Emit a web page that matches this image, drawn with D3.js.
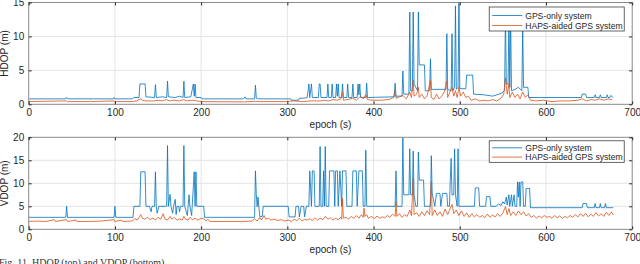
<!DOCTYPE html>
<html>
<head>
<meta charset="utf-8">
<script src="https://cdn.jsdelivr.net/npm/d3@7"></script>
<style>
  body { margin: 0; background: #fff; }
  svg { display: block; font-family: "Liberation Sans", Arial, sans-serif; }
  .grid line { stroke: #e4e4e4; stroke-width: 1; }
  .axis path { display: none; }
  .axis line { stroke: #262626; }
  .axis text { fill: #262626; font-size: 10px; }
  .frame { fill: none; stroke: #8a8a8a; stroke-width: 1; }
  .dop-line { fill: none; stroke-width: 0.8; stroke-linejoin: round; }
</style>
</head>
<body>
<div id="chart"></div>
<script>
// ---- data: [epoch (s), value (m)] ----
const epochTicks = [0, 100, 200, 300, 400, 500, 600, 700];
const hdopTicks = [0, 5, 10, 15];
const vdopTicks = [0, 5, 10, 15, 20];
const seriesNames = ["GPS-only system", "HAPS-aided GPS system"];
const caption = "Fig. 11. HDOP (top) and VDOP (bottom).";

const hdopGps = [[0,0.8],[43,0.8],[44,1.0],[45,0.8],[98,0.8],[99,1.0],[100,0.8],[120,0.8],[122,1.0],[128,1.0],[129,3.0],[135,3.0],[136,1.1],[146,1.0],[147,2.9],[148,1.0],[155,1.1],[160,1.0],[161,3.4],[162,1.1],[170,1.0],[175,1.2],[179,1.0],[180,3.4],[181,1.0],[188,1.1],[191,3.0],[192,1.2],[193,3.0],[194,1.0],[200,1.0],[201,0.8],
  [249,0.8],[251,1.1],[252,0.8],[262,0.8],[263,2.8],[264,0.9],[267,0.8],[304,0.8],[305,0.6],[313,0.6],[314,0.9],[319,0.9],[323,1.0],
  [325,3.0],[326,1.0],[328,3.0],[329,1.0],[336,1.0],[337,3.0],[338,3.0],[339,1.0],[346,1.0],[347,3.0],[348,1.0],[351,1.0],[352,3.0],[353,1.0],[356,1.0],[357,3.0],[358,1.2],[359,3.0],[360,1.0],[363,1.0],[364,3.0],[365,1.0],[369,1.0],[370,3.0],[371,1.0],[375,1.0],[376,3.0],[377,1.0],[381,1.0],[382,3.0],[383,1.4],[384,3.0],[385,1.0],[391,1.0],[392,3.1],[393,1.0],
  [424,1.1],[425,3.1],[426,1.2],[433,1.2],[434,4.9],[435,1.5],[441,1.5],[442,13.6],[443,2.0],[445,2.0],[446,13.6],[447,3.0],[451,2.0],[452,13.6],[453,5.8],[459,5.8],[460,2.0],[465,2.0],[466,6.7],[467,2.2],[484,2.2],[485,10.4],[486,2.2],[490,2.0],[491,10.4],[492,2.0],[494,2.5],[495,14.5],[496,2.2],[498,2.5],[499,15.0],[500,2.3],[507,2.3],[508,4.3],[515,4.3],[516,1.5],[528,1.4],[538,1.2],[548,1.6],[552,2.0],[553,13.5],[554,3.0],[556,3.0],[557,13.0],[558,2.5],[559,12.5],[560,2.0],[564,2.2],[568,2.5],[572,2.0],[573,11.0],[574,2.5],[579,2.5],[580,1.0],
  [641,1.0],[642,1.5],[646,1.5],[647,1.0],[656,1.0],[657,1.4],[658,1.0],[662,1.0],[663,1.4],[664,1.0],[670,1.0],[671,1.4],[672,1.0],[674,1.0],[675,1.3],[678,1.0]];

const hdopHaps = [[0,0.4],[44,0.5],[45,0.4],[70,0.4],[72,0.5],[73,0.4],[99,0.5],[100,0.4],[120,0.4],[125,0.5],[130,0.8],[132,0.6],[135,0.5],[145,0.5],[150,0.6],[155,0.5],[160,0.7],[163,0.5],[168,0.6],[175,0.5],[180,0.7],[183,0.5],[190,0.6],[195,0.5],[200,0.4],
  [249,0.35],[263,0.45],[268,0.4],[298,0.4],[308,0.5],[318,0.4],[328,0.5],[338,0.5],[343,0.6],[348,0.5],[353,0.7],[358,0.6],[362,0.8],[364,1.8],[365,0.6],[370,0.7],[376,0.9],[380,0.6],[385,1.2],[388,0.8],[391,1.4],[393,0.7],[398,0.6],[408,0.6],[418,0.7],[423,1.0],[425,2.0],[426,0.9],[430,1.1],[434,1.3],[438,0.8],[442,1.8],[444,1.0],[446,3.6],[447,1.2],[450,1.5],[452,2.5],[453,1.0],[456,1.5],[459,0.8],[462,1.2],[466,3.5],[467,1.0],[470,0.7],[473,1.5],[476,0.8],[479,1.2],[482,1.8],[485,3.4],[486,1.0],[489,2.0],[491,2.5],[493,1.2],[495,2.0],[497,1.0],[499,2.5],[501,1.2],[504,1.8],[507,1.0],[510,1.2],[513,0.6],[518,0.8],[523,0.5],[528,0.6],[533,0.5],[538,0.7],[543,0.5],[548,0.9],[551,1.5],[553,3.9],[555,1.5],[557,3.0],[558,1.0],[561,1.8],[564,1.0],[567,1.5],[570,0.8],[573,1.8],[576,1.0],[579,1.4],[582,0.6],
  [588,0.5],[597,0.6],[607,0.4],[617,0.5],[627,0.5],[637,0.6],[642,0.8],[647,0.5],[652,0.7],[657,0.6],[662,0.8],[667,0.6],[672,0.8],[677,0.7]];

const vdopGps = [[0,2.6],[43,2.6],[44,5.0],[45,2.6],[99,2.6],[100,5.0],[101,2.6],[121,2.6],[122,5.0],[129,5.0],[130,12.5],[135,12.5],[136,5.0],[140,5.0],[142,3.8],[143,5.0],[146,5.0],[147,12.5],[148,5.0],[149,3.5],[151,5.0],[160,5.0],[161,18.2],[162,5.0],[164,7.6],[165,5.0],[167,3.5],[168,5.0],[170,6.5],[171,3.2],[172,5.0],[174,5.0],[175,3.8],[176,5.0],[179,5.0],[180,18.2],[181,5.0],[184,3.0],[186,7.5],[187,5.0],[189,3.0],[192,12.5],[193,5.0],[194,12.5],[195,5.0],[203,5.0],[204,2.6],
  [262,2.6],[263,12.7],[264,7.5],[265,4.9],[266,7.0],[268,2.8],[271,2.8],[272,5.0],[301,5.0],[302,2.7],[309,2.7],[310,5.0],[313,5.0],[314,2.7],[316,5.0],[319,5.0],[320,2.7],[322,5.0],[325,5.0],[326,12.7],[328,5.0],[329,12.7],[331,12.7],[332,5.0],[337,5.0],[338,18.0],[339,5.0],[341,5.0],[342,12.7],[343,5.0],[344,18.0],[345,5.0],[348,5.0],[349,12.7],[354,12.7],[355,5.0],[356,12.7],[358,12.7],[359,5.0],[361,12.7],[363,5.0],[364,12.7],[368,12.7],[369,5.0],[375,5.0],[376,12.7],[380,12.7],[381,5.0],[383,12.7],[387,12.7],[388,5.0],[390,5.0],[391,17.2],[392,5.0],
  [425,5.0],[426,12.7],[427,5.0],[433,5.0],[434,20],[435,7.5],[441,7.5],[442,17.5],[443,7.5],[445,7.5],[446,17.0],[447,7.5],[449,5.0],[451,5.0],[452,16.8],[453,10.7],[458,10.7],[459,5.0],[466,5.0],[467,16.0],[468,7.8],[471,5.0],[473,7.8],[477,7.8],[478,5.0],[480,7.8],[485,7.8],[486,5.0],[488,5.0],[489,10.7],[490,15.4],[491,7.5],[493,7.5],[494,17.5],[495,7.5],[497,5.0],[498,17.5],[499,5.0],
  [517,5.0],[518,9.0],[522,9.0],[523,5.0],[530,5.0],[531,7.1],[535,7.1],[536,5.0],[542,5.0],[545,5.5],[548,5.2],[550,6.0],[552,5.5],[554,7.0],[555,5.3],[557,7.5],[558,5.0],[560,7.5],[561,5.0],[563,7.5],[564,5.0],[566,5.0],[567,10.3],[568,7.0],[569,10.3],[570,5.0],[571,10.3],[573,10.3],[574,5.0],[576,5.0],[577,8.9],[581,8.9],[582,4.7],
  [642,4.7],[643,5.6],[647,5.6],[648,4.7],[656,4.7],[657,5.6],[658,4.7],[662,4.7],[663,5.6],[664,4.7],[668,4.7],[669,5.6],[670,4.7],[678,4.7]];

const vdopHaps = [[0,1.7],[10,1.8],[20,1.7],[30,2.1],[31,1.7],[44,2.1],[45,1.7],[55,2.0],[56,1.7],[70,1.7],[85,1.8],[99,2.1],[100,1.7],[108,2.0],[109,1.7],[120,1.8],[123,2.3],[126,2.0],[130,3.2],[132,2.4],[135,2.2],[138,2.6],[141,2.1],[144,2.4],[147,2.0],[150,2.6],[153,2.2],[156,3.4],[158,2.2],[161,2.0],[164,2.8],[166,2.2],[169,2.6],[172,2.0],[175,2.3],[178,2.0],[180,2.8],[182,2.2],[185,2.0],[187,2.6],[190,2.1],[193,2.4],[196,2.0],[200,2.4],[203,2.3],[206,1.8],[208,2.2],[210,1.7],[230,1.7],
  [249,1.7],[259,1.8],[262,2.3],[265,1.8],[268,2.6],[270,2.0],[273,3.0],[275,2.2],[278,2.4],[281,2.0],[285,2.2],[289,1.9],[293,2.1],[297,1.8],[301,2.0],[305,1.7],[308,2.2],[311,1.9],[314,2.4],[317,1.8],[320,2.2],[323,2.0],[326,2.3],[329,1.9],[332,2.5],[335,2.0],[338,2.4],[341,2.1],[344,2.8],[347,2.2],[350,2.5],[353,2.0],[356,2.4],[359,2.1],[362,2.6],[363,2.2],[364,6.7],[365,2.4],[368,2.6],[371,2.2],[374,2.8],[377,2.4],[380,3.0],[383,2.4],[386,3.2],[388,2.6],[389,4.6],[390,2.8],[392,3.2],[394,2.4],
  [398,2.8],[401,2.3],[404,2.9],[407,2.4],[410,2.7],[413,2.5],[416,3.0],[419,2.6],[422,3.3],[425,2.8],[426,6.0],[427,2.8],[430,3.4],[433,2.6],[436,3.2],[439,2.8],[442,4.2],[444,3.0],[446,11.0],[447,3.2],[450,3.6],[453,2.8],[456,3.8],[459,3.0],[462,4.0],[465,3.2],[467,10.5],[468,3.0],[471,4.2],[474,3.0],[477,3.8],[480,2.8],[483,4.4],[486,3.2],[489,4.6],[491,5.4],[493,3.4],[496,4.2],[499,3.0],
  [502,4.0],[505,2.8],[508,3.6],[511,2.6],[514,3.4],[517,2.7],[520,3.2],[523,2.6],[526,3.0],[529,2.5],[532,3.3],[535,2.6],[538,3.1],[541,2.7],[544,3.4],[547,2.8],[550,3.6],[553,4.9],[555,3.2],[557,4.5],[559,3.0],[562,3.8],[565,3.0],[568,4.0],[571,3.2],[574,3.8],[577,2.9],[580,3.4],[583,2.6],[586,3.0],[589,2.4],[592,2.9],[595,2.5],[598,3.0],
  [601,2.6],[604,2.8],[607,2.4],[610,3.0],[613,2.5],[616,2.9],[619,2.4],[622,2.8],[625,2.5],[628,3.0],[631,2.6],[634,3.2],[637,2.7],[640,3.4],[643,2.8],[646,3.5],[649,2.7],[652,3.3],[655,2.8],[658,3.6],[661,2.9],[664,3.4],[667,2.8],[670,3.7],[673,3.0],[676,3.8],[678,3.1]];

const colors = ["#0072BD", "#D95319"];

class DopChart {

  constructor(_svg, _config) {
    this.svg = _svg;
    this.config = _config;
    this.initVis();
  }

  initVis() {
    let vis = this;
    let c = vis.config;

    vis.width = 603.5;
    vis.height = c.height;

    vis.g = vis.svg.append("g")
      .attr("transform", "translate(28.7," + c.top + ")");

    vis.xScale = d3.scaleLinear().domain([0, 700]).range([0, vis.width]);
    vis.yScale = d3.scaleLinear().domain([0, c.yTicks[c.yTicks.length - 1]]).range([vis.height, 0]);

    // grid
    vis.g.append("g").attr("class", "grid")
      .selectAll("line.gx").data(epochTicks.slice(1, -1)).join("line")
        .attr("x1", d => vis.xScale(d)).attr("x2", d => vis.xScale(d))
        .attr("y1", 0).attr("y2", vis.height);
    vis.g.append("g").attr("class", "grid")
      .selectAll("line.gy").data(c.yTicks.slice(1, -1)).join("line")
        .attr("y1", d => vis.yScale(d)).attr("y2", d => vis.yScale(d))
        .attr("x1", 0).attr("x2", vis.width);

    vis.g.append("clipPath").attr("id", c.id + "-clip")
      .append("rect").attr("width", vis.width).attr("height", vis.height);

    vis.lineGen = d3.line()
      .x(d => vis.xScale(d[0]))
      .y(d => vis.yScale(d[1]));

    vis.g.append("g")
      .attr("clip-path", "url(#" + c.id + "-clip)")
      .selectAll("path")
      .data(c.series)
      .join("path")
        .attr("class", "dop-line")
        .attr("stroke", (d, i) => colors[i])
        .attr("d", d => vis.lineGen(d));

    vis.g.append("rect").attr("class", "frame")
      .attr("width", vis.width).attr("height", vis.height);

    // axes with inward ticks on all four sides
    vis.g.append("g").attr("class", "axis")
      .attr("transform", "translate(0," + vis.height + ")")
      .call(d3.axisBottom(vis.xScale).tickValues(epochTicks).tickSize(-3).tickPadding(5));
    vis.g.append("g").attr("class", "axis")
      .call(d3.axisTop(vis.xScale).tickValues(epochTicks).tickSize(-3).tickFormat(""));
    vis.g.append("g").attr("class", "axis")
      .call(d3.axisLeft(vis.yScale).tickValues(c.yTicks).tickSize(-3).tickPadding(4.5));
    vis.g.append("g").attr("class", "axis")
      .attr("transform", "translate(" + vis.width + ",0)")
      .call(d3.axisRight(vis.yScale).tickValues(c.yTicks).tickSize(-3).tickFormat(""));

    vis.g.append("text")
      .attr("x", vis.width / 2)
      .attr("y", vis.height + c.xLabelDy)
      .attr("text-anchor", "middle")
      .style("font-size", "10px").style("fill", "#262626")
      .text("epoch (s)");

    vis.g.append("text")
      .attr("transform", "translate(-21," + (vis.height / 2) + ") rotate(-90)")
      .attr("text-anchor", "middle")
      .style("font-size", "10px").style("fill", "#262626")
      .text(c.yLabel);

    // legend
    let lg = vis.g.append("g")
      .attr("transform", "translate(" + (vis.width - 143) + "," + c.legendTop + ")");
    lg.append("rect")
      .attr("width", 135).attr("height", c.legendHeight)
      .attr("fill", "#fff").attr("stroke", "#262626").attr("stroke-width", 0.7);
    seriesNames.forEach((name, i) => {
      let y = c.legendRow[i];
      lg.append("line")
        .attr("x1", 3).attr("x2", 33).attr("y1", y).attr("y2", y)
        .attr("stroke", colors[i]).attr("stroke-width", 0.8);
      lg.append("text")
        .attr("x", 36).attr("y", y + 3)
        .style("font-size", "8.6px").style("fill", "#262626")
        .text(name);
    });
  }
}

const svg = d3.select("#chart").append("svg")
  .attr("width", 640).attr("height", 264);

new DopChart(svg, {
  id: "hdop", top: 2.5, height: 101.8, yTicks: hdopTicks, yLabel: "HDOP (m)",
  series: [hdopGps, hdopHaps], xLabelDy: 24, legendTop: 4.5, legendHeight: 24, legendRow: [8.5, 18.5]
});
new DopChart(svg, {
  id: "vdop", top: 137.3, height: 92, yTicks: vdopTicks, yLabel: "VDOP (m)",
  series: [vdopGps, vdopHaps], xLabelDy: 24, legendTop: 3.5, legendHeight: 21.5, legendRow: [7, 16.3]
});

svg.append("text")
  .attr("x", -1).attr("y", 266)
  .style("font-family", "'Liberation Serif', 'Times New Roman', serif")
  .style("font-size", "10px").style("fill", "#333")
  .text(caption);
</script>
</body>
</html>
